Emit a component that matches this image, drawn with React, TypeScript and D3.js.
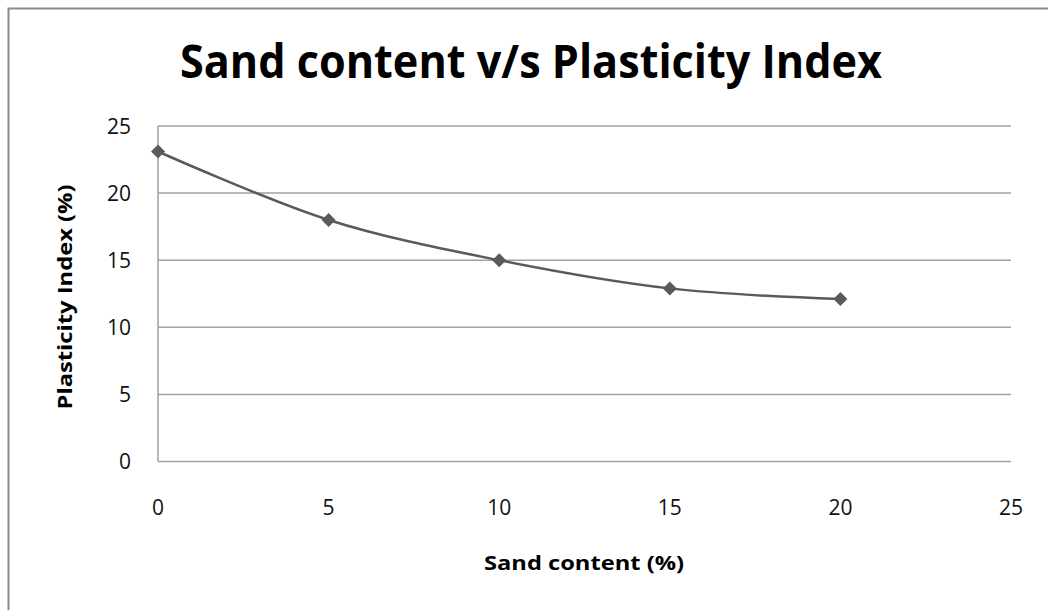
import React from "react";
import * as d3 from "d3";

const sandContent = [0, 5, 10, 15, 20];
const plasticityIndex = [23.1, 18, 15, 12.9, 12.1];
const xTicks = [0, 5, 10, 15, 20, 25];
const yTicks = [0, 5, 10, 15, 20, 25];
const title = "Sand content v/s Plasticity Index";
const xTitle = "Sand content (%)";
const yTitle = "Plasticity Index (%)";

const W = 1048;
const H = 610;
const left = 158;
const right = 1011;
const top = 126;
const bottom = 461.5;

export default function App() {
  const x = d3.scaleLinear().domain([0, 25]).range([left, right]);
  const y = d3.scaleLinear().domain([0, 25]).range([bottom, top]);
  const pts = sandContent.map((s, i) => [x(s), y(plasticityIndex[i])] as [number, number]);
  const line = d3.line().curve(d3.curveCatmullRom.alpha(0.5))(pts) || "";
  const font = "'Open Sans', 'DejaVu Sans', sans-serif";
  const grid = "#a0a0a0";
  const ink = "#5a5a5a";
  return (
    <svg width={W} height={H} style={{ position: "absolute", left: 0, top: 0, background: "#fff" }}>
      <rect x={0} y={0} width={W} height={H} fill="#fff" />
      <rect x={8.5} y={8.5} width={W + 50} height={H + 50} fill="#fff" stroke="#8a8a8a" strokeWidth={2} />
      <text x={531} y={78} textAnchor="middle" fontFamily={font} fontWeight="bold" fontSize={46}
        textLength={702} lengthAdjust="spacingAndGlyphs" fill="#000">{title}</text>
      {yTicks.map((t) => (
        <line key={"g" + t} x1={left} x2={right} y1={y(t)} y2={y(t)} stroke={grid} strokeWidth={1.5} />
      ))}
      <line x1={left} x2={left} y1={top} y2={bottom} stroke={grid} strokeWidth={1.5} />
      {yTicks.map((t) => (
        <text key={"y" + t} x={131} y={y(t)} dy="0.36em" textAnchor="end" fontFamily={font} fontSize={21}
          fill="#111">{t}</text>
      ))}
      {xTicks.map((t) => (
        <text key={"x" + t} x={x(t)} y={515} textAnchor="middle" fontFamily={font} fontSize={21}
          fill="#111">{t}</text>
      ))}
      <text x={584} y={570} textAnchor="middle" fontFamily={font} fontWeight="bold" fontSize={20}
        textLength={200} lengthAdjust="spacingAndGlyphs" fill="#000">{xTitle}</text>
      <text transform={`translate(72,297) rotate(-90)`} textAnchor="middle" fontFamily={font} fontWeight="bold"
        fontSize={20} textLength={225} lengthAdjust="spacingAndGlyphs" fill="#000">{yTitle}</text>
      <path d={line} fill="none" stroke={ink} strokeWidth={2.5} />
      {pts.map(([px, py], i) => (
        <path key={"m" + i} d={`M${px},${py - 7}L${px + 7},${py}L${px},${py + 7}L${px - 7},${py}Z`} fill={ink} />
      ))}
    </svg>
  );
}
